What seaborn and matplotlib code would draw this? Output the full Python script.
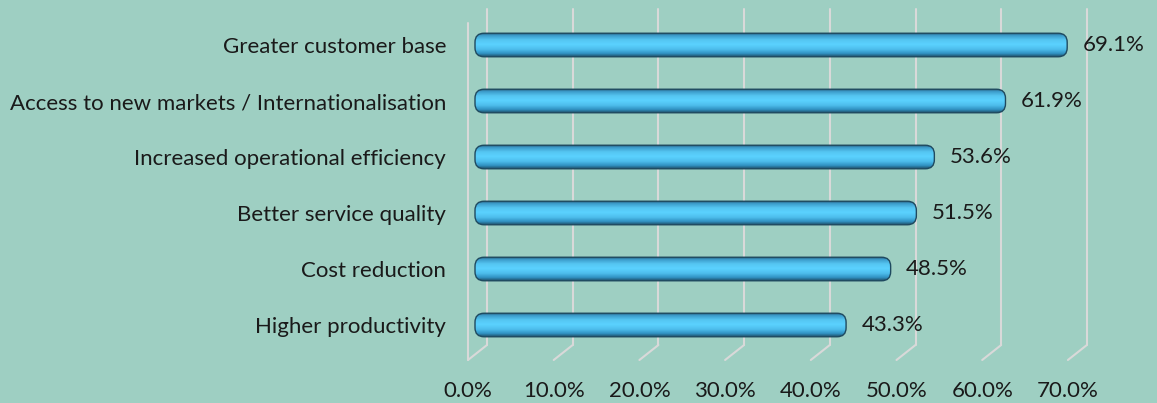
import numpy as np
import pandas as pd
import matplotlib
matplotlib.use("Agg")
import matplotlib.pyplot as plt
from matplotlib.colors import LinearSegmentedColormap
from matplotlib.patches import FancyBboxPatch
import seaborn as sns

categories = ["Greater customer base",
              "Access to new markets / Internationalisation",
              "Increased operational efficiency",
              "Better service quality",
              "Cost reduction",
              "Higher productivity"]
values = [69.1, 61.9, 53.6, 51.5, 48.5, 43.3]
xticks = [0, 10, 20, 30, 40, 50, 60, 70]
xtick_labels = [f"{t:.1f}%" for t in xticks]

BG = "#9ECFC2"
GRID = "#D9D9D9"
TXT = "#1A1A1A"
FONT = "Lato"
FS = 16

sns.set_theme(style="white")
plt.rcParams["font.family"] = [FONT, "DejaVu Sans"]

W, H = 1157, 403
fig = plt.figure(figsize=(W / 100, H / 100), dpi=100, facecolor=BG)

ax_left, ax_right, ax_top, ax_bottom = 460, 1157, 0, 360
ax = fig.add_axes([ax_left / W, 1 - ax_bottom / H, (ax_right - ax_left) / W, (ax_bottom - ax_top) / H])
ax.set_facecolor(BG)

pxpct = 8.57
zero_px = 475
xmin = (ax_left - zero_px) / pxpct
xmax = (ax_right - zero_px) / pxpct
row_px = 56
first_px = 45
ymin = -first_px / row_px
ymax = (len(categories) - 1) + (ax_bottom - (first_px + row_px * (len(categories) - 1))) / row_px

df = pd.DataFrame({"category": categories, "value": values})
sns.barplot(data=df, y="category", x="value", orient="h", ax=ax,
            color="#52C4F2", width=0.42, edgecolor="#1F4A60", linewidth=1.0, zorder=3)

ax.set_xlim(xmin, xmax)
ax.set_ylim(ymax, ymin)

back_off = 12 / pxpct
front_off = -7 / pxpct
y_back_bottom = ymin + (345 - ax_top) / row_px
y_top = ymin + 9 / row_px
y_front = ymax
for t in xticks:
    ax.plot([t + back_off, t + back_off], [y_top, y_back_bottom], color=GRID, lw=1.5, zorder=1, clip_on=False)
    ax.plot([t + back_off, t + front_off], [y_back_bottom, y_front], color=GRID, lw=1.5, zorder=1, clip_on=False)
ax.plot([xticks[0] + front_off] * 2, [ymin + 23 / row_px, y_front], color=GRID, lw=1.5, zorder=1, clip_on=False)

cmap = LinearSegmentedColormap.from_list("cyl", [
    (0.0, "#24506A"), (0.08, "#3A98C6"), (0.28, "#55C6F2"), (0.48, "#5BD2FF"),
    (0.68, "#4DBDEC"), (0.86, "#3092C2"), (1.0, "#1E4A62")])
grad = np.linspace(0, 1, 64).reshape(-1, 1)
r_px = 9
for p in list(ax.patches):
    x0, y0 = p.get_x(), p.get_y()
    w, h = p.get_width(), p.get_height()
    rx = r_px / pxpct
    ry = r_px / row_px
    cap = FancyBboxPatch((x0, y0), w, h, boxstyle=f"round,pad=0,rounding_size={rx}",
                         mutation_aspect=ry / rx, facecolor="none",
                         edgecolor="#1F4A60", linewidth=1.0, zorder=4)
    ax.add_patch(cap)
    p.set_visible(False)
    im = ax.imshow(grad, cmap=cmap, aspect="auto", extent=(x0, x0 + w, y0 + h, y0),
                   zorder=3.5, interpolation="bilinear")
    im.set_clip_path(cap)
ax.set_xlim(xmin, xmax)
ax.set_ylim(ymax, ymin)

for c in ax.containers:
    ax.bar_label(c, labels=[f"{v:.1f}%" for v in values], padding=11,
                 fontsize=FS, color=TXT, family=[FONT, "DejaVu Sans"])

# x tick labels sit under the front edge of the 3D floor
ax.set_xticks([t + front_off for t in xticks])
ax.set_xticklabels(xtick_labels, fontsize=FS, color=TXT)
ax.tick_params(axis="x", length=0, pad=15)
ax.tick_params(axis="y", length=0, pad=10, labelsize=FS, labelcolor=TXT)
ax.set_xlabel("")
ax.set_ylabel("")
for s in ax.spines.values():
    s.set_visible(False)

fig.savefig("out.png", dpi=100, facecolor=BG)
